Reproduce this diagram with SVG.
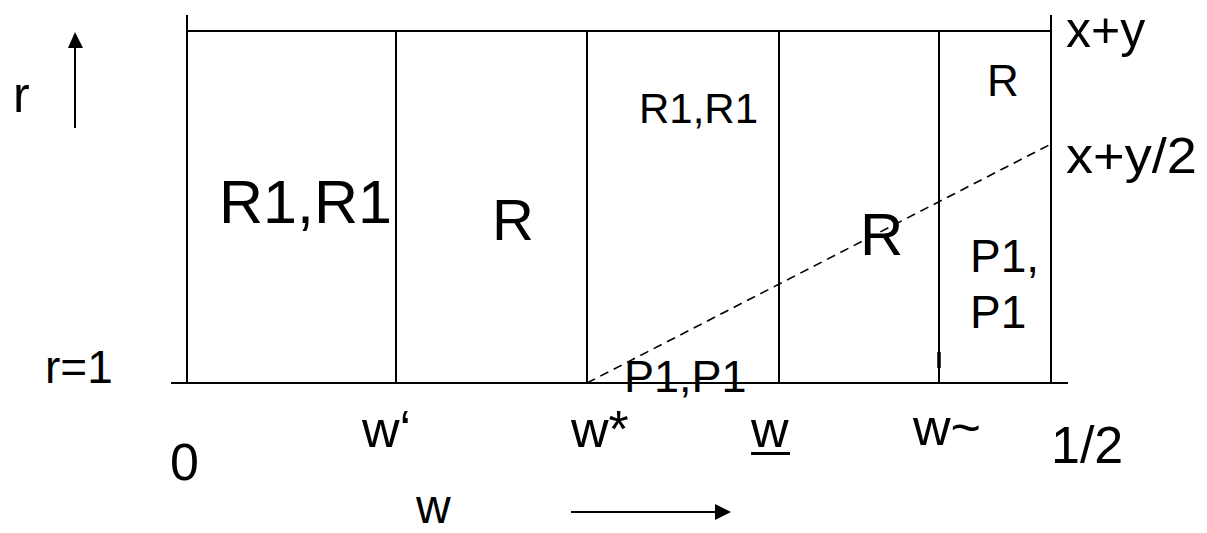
<svg xmlns="http://www.w3.org/2000/svg" width="1207" height="533" viewBox="0 0 1207 533">
<style>
.ln{stroke:#000;stroke-width:2;fill:none}
.ds{stroke:#000;stroke-width:1.6;fill:none;stroke-dasharray:9,6}
text{font-family:"Liberation Sans",Arial,sans-serif;fill:#000}
</style>
<rect width="1207" height="533" fill="#fff"/>
<g id="connectors">
<line class="ln" x1="187" y1="31" x2="1051" y2="31"/>
<line class="ln" x1="171" y1="383" x2="1068" y2="383"/>
<line class="ln" x1="187" y1="15" x2="187" y2="383"/>
<line class="ln" x1="1051" y1="15" x2="1051" y2="383"/>
<line class="ln" x1="396" y1="31" x2="396" y2="383"/>
<line class="ln" x1="587" y1="31" x2="587" y2="383"/>
<line class="ln" x1="779" y1="31" x2="779" y2="383"/>
<line class="ln" x1="939" y1="31" x2="939" y2="383"/>
<line x1="939" y1="352" x2="939" y2="368" stroke="#000" stroke-width="3.5"/>
<line class="ds" x1="587" y1="383" x2="1051" y2="144"/>
<line class="ln" x1="75" y1="128" x2="75" y2="46"/>
<polygon points="75,32 68,48 83,48" fill="#000"/>
<line class="ln" x1="571" y1="512" x2="717" y2="512"/>
<polygon points="731,512 715,504 715,520" fill="#000"/>
<line x1="751" y1="453.5" x2="790" y2="453.5" stroke="#000" stroke-width="3"/>
</g>
<g id="axis-labels">
<text x="13" y="112" font-size="50">r</text>
<text x="45" y="383" font-size="46">r=1</text>
<text x="170" y="480" font-size="52">0</text>
<text x="362" y="447" font-size="52">w‘</text>
<text x="571" y="447" font-size="52">w*</text>
<text x="751" y="447" font-size="52">w</text>
<text x="913" y="445" font-size="52">w~</text>
<text x="1051" y="463" font-size="52">1/2</text>
<text x="416" y="523" font-size="48">w</text>
<text x="1066" y="47" font-size="50">x+y</text>
<text x="1066" y="173" font-size="50" textLength="131" lengthAdjust="spacingAndGlyphs">x+y/2</text>
</g>
<g id="region-labels">
<text x="219" y="223" font-size="61">R1,R1</text>
<text x="492" y="240" font-size="58">R</text>
<text x="639" y="123" font-size="42">R1,R1</text>
<text x="860" y="255" font-size="60">R</text>
<text x="987" y="96" font-size="44">R</text>
<text x="970" y="272" font-size="46">P1,</text>
<text x="970" y="328" font-size="46">P1</text>
<text x="624" y="392" font-size="45">P1,P1</text>
</g>
</svg>
